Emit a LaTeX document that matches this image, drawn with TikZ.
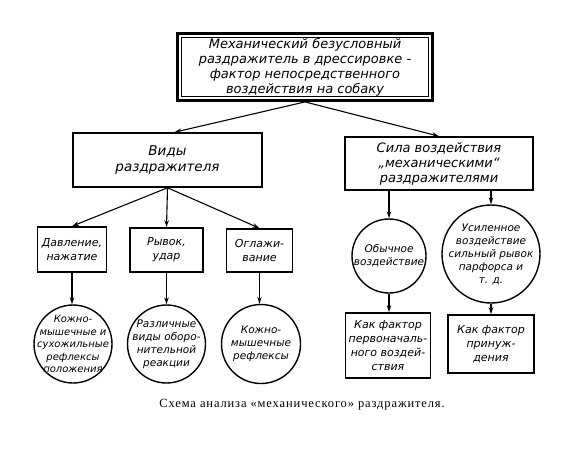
\documentclass[tikz,border=0pt]{standalone}
\usepackage{fontspec}
\setmainfont{Liberation Serif}
\newfontfamily\handfont{DejaVu Sans}
\newfontfamily\capfont[LetterSpace=7]{Liberation Serif}
\usetikzlibrary{arrows.meta}
\begin{document}
\begin{tikzpicture}[x=1pt,y=-1pt,
  hand/.style={font=\handfont\itshape\fontsize{13}{15}\selectfont, align=center},
  handmd/.style={font=\handfont\itshape\fontsize{11}{14}\selectfont, align=center},
  handsm/.style={font=\handfont\itshape\fontsize{10.5}{13}\selectfont, align=center},
  boxnode/.style={draw, line width=1.6pt, inner sep=1pt},
  ring/.style={draw, circle, line width=1.4pt, inner sep=0pt},
  arr/.style={line width=1.1pt, -{Stealth[length=7pt,width=4.5pt]}}]
\fill[white] (0,0) rectangle (580,448);
\useasboundingbox (0,0) rectangle (580,448);

% top box
\node[boxnode, line width=2.8pt, minimum width=255, minimum height=67, hand] (top) at (305,67)
  {Механический безусловный\\раздражитель в дрессировке -\\фактор непосредственного\\воздействия на собаку};
\draw[line width=1pt] ([shift={(5,5)}]top.north west) rectangle ([shift={(-5,-5)}]top.south east);

% second level
\node[boxnode, minimum width=189, minimum height=54, hand, font=\handfont\itshape\fontsize{13.5}{16}\selectfont] (vid) at (167.5,160) {Виды\\раздражителя};
\node[boxnode, minimum width=188, minimum height=53, hand] (sila) at (439,163.5)
  {Сила воздействия\\„механическими“\\раздражителями};

\draw[arr] (top.south) -- ([xshift=7]vid.north);
\draw[arr] (top.south) -- (sila.north);

% left branch boxes
\node[boxnode, minimum width=69, minimum height=45, handmd] (dav) at (72,249.5) {Давление,\\нажатие};
\node[boxnode, minimum width=73, minimum height=44, handmd] (ryv) at (166.5,250) {Рывок,\\удар};
\node[boxnode, minimum width=66, minimum height=43, handmd] (ogl) at (259.5,250.5) {Оглажи-\\вание};

\draw[arr] (vid.south) -- (dav.north);
\draw[arr] (vid.south) -- (ryv.north);
\draw[arr] (vid.south) -- (ogl.north);

% left circles
\node[ring, minimum size=78] (c1) at (73,344) {};
\node[ring, minimum size=78] (c2) at (166.5,344) {};
\node[ring, minimum size=79] (c3) at (261,344) {};
\node[handsm, font=\handfont\itshape\fontsize{10}{12.5}\selectfont] (t1) at (c1) {Кожно-\\мышечные и\\сухожильные\\рефлексы\\положения};
\node[handsm] (t2) at (c2) {Различные\\виды оборо-\\нительной\\реакции};
\node[handsm] (t3) at (c3) {Кожно-\\мышечные\\рефлексы};

\draw[arr] (dav.south) -- (dav.south |- c1.north);
\draw[arr] (ryv.south) -- (c2.north);
\draw[arr] (ogl.south) -- (ogl.south |- c3.north);

% right circles
\node[ring, minimum size=74] (c4) at (389,256) {};
\node[ring, minimum size=98] (c5) at (491,254) {};
\node[handsm] (t4) at (c4) {Обычное\\воздействие};
\node[handsm] (t5) at (c5) {Усиленное\\воздействие\\сильный рывок\\парфорса и\\т. д.};

\draw[arr] (c4.north |- sila.south) -- (c4.north);
\draw[arr] (c5.north |- sila.south) -- (c5.north);

% right bottom boxes
\node[boxnode, minimum width=85, minimum height=65, handmd] (k1) at (388,345.5)
  {Как фактор\\первоначаль-\\ного воздей-\\ствия};
\node[boxnode, minimum width=86, minimum height=58, handmd] (k2) at (491,344)
  {Как фактор\\принуж-\\дения};

\draw[arr] (c4.south) -- (c4.south |- k1.north);
\draw[arr] (c5.south) -- (c5.south |- k2.north);

% caption
\node[font=\capfont\fontsize{12.5}{14}\selectfont] (cap) at (302,405) {Схема анализа «механического» раздражителя.};
\end{tikzpicture}
\end{document}
